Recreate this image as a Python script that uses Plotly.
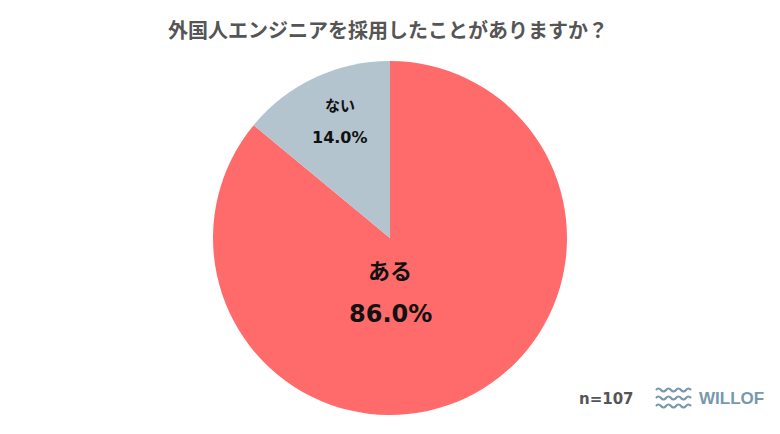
import plotly.graph_objects as go

labels = ["ある", "ない"]
values = [86.0, 14.0]
colors = ["#FF6B6B", "#B4C4CE"]
title = "外国人エンジニアを採用したことがありますか？"
note = "n=107"

# page body adds an 8px offset, so everything is placed 8px up/left
OX, OY = 8, 7

fig = go.Figure()
fig.add_trace(go.Pie(
    labels=labels, values=values, sort=False, direction="clockwise", rotation=0,
    marker=dict(colors=colors, line=dict(width=0)),
    textinfo="none",
    domain=dict(x=[(213 - OX) / 780, (567 - OX) / 780],
                y=[1 - (414 - OY) / 434, 1 - (60 - OY) / 434]),
    showlegend=False, hoverinfo="label+percent",
))

# slice labels
label_pos = [(390, 268, 313, 22, 24), (340, 103, 136, 15, 16)]
for (lx, ly1, ly2, fs, fs2), lab, v in zip(label_pos, labels, values):
    fig.add_annotation(x=lx - OX, y=ly1 - OY, xref="x", yref="y", text="<b>" + lab + "</b>",
                       showarrow=False, font=dict(size=fs, color="#111111", family="Noto Sans CJK JP"))
    fig.add_annotation(x=lx - OX, y=ly2 - OY, xref="x", yref="y", text=f"<b>{v:.1f}%</b>",
                       showarrow=False, font=dict(size=fs2, color="#111111", family="DejaVu Sans"))

fig.add_annotation(x=388 - OX, y=28 - OY, xref="x", yref="y", text="<b>" + title + "</b>",
                   showarrow=False, font=dict(size=20, color="#555555", family="Noto Sans CJK JP"))

# footer: sample size and logo
fig.add_annotation(x=606 - OX, y=398 - OY, xref="x", yref="y", text="<b>" + note + "</b>", showarrow=False,
                   font=dict(size=15, color="#555555", family="DejaVu Sans"))
wave = "#7898AC"
for k in range(3):
    y0 = 389 + k * 8 - OY
    x0 = 656 - OX
    d = f"M {x0} {y0}"
    for i in range(7):
        x = x0 + i * 5
        d += f" Q {x + 2.5} {y0 - 3 if i % 2 == 0 else y0 + 3} {x + 5} {y0}"
    fig.add_shape(type="path", path=d, xref="x", yref="y", line=dict(color=wave, width=2.2))
fig.add_annotation(x=697 - OX, y=397 - OY, xref="x", yref="y", xanchor="left", text="<b>WILLOF</b>",
                   showarrow=False, font=dict(size=17, color=wave, family="Liberation Sans"))

fig.update_layout(
    width=780, height=434, margin=dict(l=0, r=0, t=0, b=0),
    paper_bgcolor="white", plot_bgcolor="rgba(0,0,0,0)",
    xaxis=dict(range=[0, 780], visible=False, fixedrange=True),
    yaxis=dict(range=[434, 0], visible=False, fixedrange=True),
)
fig.write_html("out.html")
